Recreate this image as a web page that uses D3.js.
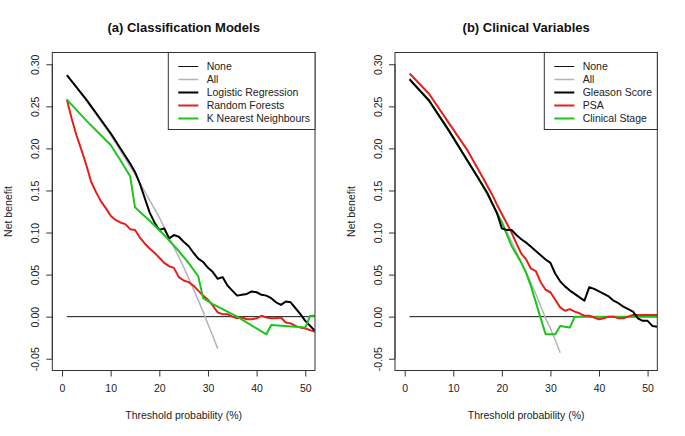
<!DOCTYPE html>
<html>
<head>
<meta charset="utf-8">
<script src="https://cdn.jsdelivr.net/npm/d3@7"></script>
<style>
  html, body { margin: 0; padding: 0; background: #fff; }
  svg { display: block; font-family: "Liberation Sans", Arial, sans-serif; }
</style>
</head>
<body>
<svg id="chart" width="685" height="436"></svg>
<script>
// ---------------- DATA ----------------
const panelTitles = ["(a) Classification Models", "(b) Clinical Variables"];
const xTicks = [0, 10, 20, 30, 40, 50];
const yTicks = [-0.05, 0.00, 0.05, 0.10, 0.15, 0.20, 0.25, 0.30];
const xLabel = "Threshold probability (%)";
const yLabel = "Net benefit";

// Panel (a)
const noneA_x = [1, 60];
const noneA_y = [0, 0];
const allA_x = [1, 5, 10, 15, 20, 25, 27, 29, 30, 31, 32];
const allA_y = [0.287, 0.257, 0.216, 0.169, 0.118, 0.059, 0.033, 0.006, -0.009, -0.023, -0.038];
const lrA_x = [1, 5, 10, 14, 15, 16, 17, 18, 19, 20, 21, 22, 23, 24, 25, 26, 27, 28, 29, 30, 31, 32, 33, 34, 35, 36, 37, 38, 39, 40, 41, 42, 43, 44, 45, 46, 47, 48, 49, 50, 51, 52];
const lrA_y = [0.287, 0.258, 0.218, 0.182, 0.172, 0.158, 0.141, 0.124, 0.112, 0.103, 0.105, 0.093, 0.097, 0.095, 0.089, 0.084, 0.076, 0.069, 0.065, 0.058, 0.053, 0.045, 0.047, 0.037, 0.031, 0.025, 0.026, 0.027, 0.030, 0.029, 0.026, 0.025, 0.022, 0.017, 0.014, 0.018, 0.017, 0.010, 0.003, -0.005, -0.011, -0.017];
const rfA_x = [1, 2, 3, 4, 5, 6, 7, 8, 9, 10, 11, 12, 13, 14, 15, 16, 17, 18, 19, 20, 21, 22, 23, 24, 25, 26, 27, 28, 29, 30, 31, 32, 33, 34, 35, 36, 37, 38, 39, 40, 41, 42, 43, 44, 45, 46, 47, 48, 49, 50, 51, 52];
const rfA_y = [0.258, 0.235, 0.215, 0.198, 0.180, 0.160, 0.148, 0.137, 0.129, 0.120, 0.115, 0.112, 0.110, 0.104, 0.103, 0.094, 0.087, 0.081, 0.076, 0.070, 0.064, 0.060, 0.058, 0.047, 0.043, 0.041, 0.037, 0.031, 0.025, 0.020, 0.013, 0.005, 0.003, 0.003, 0.000, -0.002, -0.001, -0.003, -0.003, -0.002, 0.001, -0.001, -0.002, -0.002, -0.001, -0.007, -0.008, -0.011, -0.013, -0.014, -0.016, -0.018];
const knnA_x = [1, 5, 10, 12, 14, 15, 18, 21, 24, 26, 28, 29, 31, 36, 42, 43, 50, 51, 52];
const knnA_y = [0.258, 0.233, 0.204, 0.186, 0.167, 0.130, 0.114, 0.097, 0.078, 0.064, 0.048, 0.022, 0.015, 0.000, -0.021, -0.010, -0.013, 0.001, 0.001];

// Panel (b)
const noneB_x = [1, 60];
const noneB_y = [0, 0];
const allB_x = [1, 5, 10, 15, 20, 25, 27, 29, 30, 31, 32];
const allB_y = [0.283, 0.256, 0.213, 0.166, 0.113, 0.053, 0.027, -0.002, -0.014, -0.028, -0.043];
const gleasonB_x = [1, 5, 9, 12, 15, 17, 18, 19, 20, 21, 22, 23, 24, 25, 26, 27, 28, 29, 30, 31, 32, 33, 34, 35, 36, 37, 38, 39, 40, 41, 42, 43, 44, 45, 46, 47, 48, 49, 50, 51, 52];
const gleasonB_y = [0.282, 0.257, 0.222, 0.194, 0.166, 0.147, 0.135, 0.123, 0.105, 0.103, 0.103, 0.097, 0.092, 0.088, 0.083, 0.078, 0.073, 0.068, 0.064, 0.051, 0.042, 0.036, 0.031, 0.027, 0.023, 0.019, 0.035, 0.033, 0.030, 0.027, 0.024, 0.019, 0.016, 0.012, 0.009, 0.006, -0.002, -0.005, -0.005, -0.011, -0.012];
const psaB_x = [1, 5, 9, 13, 16, 18, 19, 20, 21, 22, 23, 24, 25, 26, 27, 28, 29, 30, 31, 32, 33, 34, 35, 36, 37, 38, 39, 40, 41, 42, 43, 44, 45, 46, 47, 48, 52];
const psaB_y = [0.289, 0.265, 0.231, 0.197, 0.166, 0.145, 0.133, 0.122, 0.111, 0.100, 0.087, 0.075, 0.068, 0.057, 0.054, 0.041, 0.032, 0.029, 0.020, 0.011, 0.007, 0.009, 0.006, 0.004, 0.001, 0.001, -0.001, -0.003, -0.002, 0.000, 0.000, -0.002, -0.002, 0.000, 0.002, 0.002, 0.002];
const clinicalB_x = [1, 5, 9, 12, 15, 17, 18, 19, 20, 22, 24, 25, 26, 27, 28, 29, 31, 32, 34, 35, 52];
const clinicalB_y = [0.282, 0.257, 0.222, 0.194, 0.166, 0.147, 0.135, 0.123, 0.112, 0.084, 0.064, 0.052, 0.036, 0.017, -0.002, -0.021, -0.021, -0.011, -0.013, 0.000, 0.000];

const legendA = ["None", "All", "Logistic Regression", "Random Forests", "K Nearest Neighbours"];
const legendB = ["None", "All", "Gleason Score", "PSA", "Clinical Stage"];

// ---------------- STYLES ----------------
const seriesStyle = [
  { color: "#111", width: 1 },
  { color: "#b4b4b4", width: 1.5 },
  { color: "#000", width: 2 },
  { color: "#e3201c", width: 2 },
  { color: "#1cc41c", width: 2 }
];

const panels = [
  { left: 52.3, right: 315, title: panelTitles[0], legend: legendA, legendLeft: 168.3,
    order: [0, 1, 2, 3, 4],
    series: [[noneA_x, noneA_y], [allA_x, allA_y], [lrA_x, lrA_y], [rfA_x, rfA_y], [knnA_x, knnA_y]] },
  { left: 395, right: 657.3, title: panelTitles[1], legend: legendB, legendLeft: 544.3,
    order: [0, 1, 4, 3, 2],
    series: [[noneB_x, noneB_y], [allB_x, allB_y], [gleasonB_x, gleasonB_y], [psaB_x, psaB_y], [clinicalB_x, clinicalB_y]] }
];
const plotTop = 52.5, plotBottom = 370.5;

const svg = d3.select("#chart");
svg.append("rect").attr("width", 685).attr("height", 436).attr("fill", "#fff");

const fmt = v => d3.format(".2f")(v).replace("\u2212", "-");

panels.forEach((p, pi) => {
  const x = d3.scaleLinear().domain([-2, 52]).range([p.left, p.right]);
  const y = d3.scaleLinear().domain([-0.064, 0.314]).range([plotBottom, plotTop]);
  const g = svg.append("g");

  const clipId = "clip" + pi;
  svg.append("clipPath").attr("id", clipId)
    .append("rect").attr("x", p.left).attr("y", plotTop)
    .attr("width", p.right - p.left).attr("height", plotBottom - plotTop);

  // Axes
  const yAxis = d3.axisLeft(y).tickValues(yTicks).tickSize(6).tickPadding(3).tickFormat(fmt);
  const ya = g.append("g").attr("transform", `translate(${p.left},0)`).call(yAxis);
  ya.select(".domain").remove();
  ya.selectAll(".tick line").attr("stroke", "#333");
  ya.selectAll(".tick text")
    .attr("font-size", 10.5).attr("fill", "#222")
    .attr("font-family", "Liberation Sans, Arial, sans-serif")
    .attr("text-anchor", "middle")
    .attr("x", 0).attr("dy", null)
    .attr("transform", "translate(-17,0) rotate(-90)")
    .attr("dominant-baseline", "central");
  ya.append("line").attr("x1", 0).attr("x2", 0)
    .attr("y1", y(yTicks[0])).attr("y2", y(yTicks[yTicks.length - 1])).attr("stroke", "#333");

  const xAxis = d3.axisBottom(x).tickValues(xTicks).tickSize(6).tickPadding(8).tickFormat(d3.format("d"));
  const xa = g.append("g").attr("transform", `translate(0,${plotBottom})`).call(xAxis);
  xa.select(".domain").remove();
  xa.selectAll(".tick line").attr("stroke", "#333");
  xa.selectAll(".tick text").attr("font-size", 10.5).attr("fill", "#222")
    .attr("font-family", "Liberation Sans, Arial, sans-serif");

  // Axis labels
  g.append("text").attr("x", (p.left + p.right) / 2).attr("y", 419)
    .attr("text-anchor", "middle").attr("font-size", 10.5).attr("fill", "#222").text(xLabel);
  g.append("text")
    .attr("transform", `translate(${p.left - 44},${(plotTop + plotBottom) / 2}) rotate(-90)`)
    .attr("text-anchor", "middle").attr("dominant-baseline", "central")
    .attr("font-size", 10.5).attr("fill", "#222").text(yLabel);

  // Title
  g.append("text").attr("x", (p.left + p.right) / 2).attr("y", 32)
    .attr("text-anchor", "middle").attr("font-size", 13).attr("font-weight", "bold")
    .attr("fill", "#111").text(p.title);

  // Series lines
  const line = d3.line().x(d => x(d[0])).y(d => y(d[1]));
  const lg = g.append("g").attr("clip-path", `url(#${clipId})`);
  p.order.forEach(si => {
    const s = p.series[si];
    const pts = s[0].map((xv, i) => [xv, s[1][i]]);
    lg.append("path").datum(pts)
      .attr("d", line)
      .attr("fill", "none")
      .attr("stroke", seriesStyle[si].color)
      .attr("stroke-width", seriesStyle[si].width)
      .attr("stroke-linejoin", "round");
  });

  // Box
  g.append("rect").attr("x", p.left).attr("y", plotTop)
    .attr("width", p.right - p.left).attr("height", plotBottom - plotTop)
    .attr("fill", "none").attr("stroke", "#333").attr("stroke-width", 1);

  // Legend
  const lgd = g.append("g");
  lgd.append("rect").attr("x", p.legendLeft).attr("y", plotTop)
    .attr("width", p.right - p.legendLeft).attr("height", 129.5 - plotTop)
    .attr("fill", "#fff").attr("stroke", "#333").attr("stroke-width", 1);
  p.legend.forEach((name, i) => {
    const ly = 66.5 + 13 * i;
    lgd.append("line").attr("x1", p.legendLeft + 10).attr("x2", p.legendLeft + 30)
      .attr("y1", ly).attr("y2", ly)
      .attr("stroke", seriesStyle[i].color).attr("stroke-width", seriesStyle[i].width);
    lgd.append("text").attr("x", p.legendLeft + 38.4).attr("y", ly + 3.5)
      .attr("font-size", 10.5).attr("fill", "#222").text(name);
  });
});
</script>
</body>
</html>
